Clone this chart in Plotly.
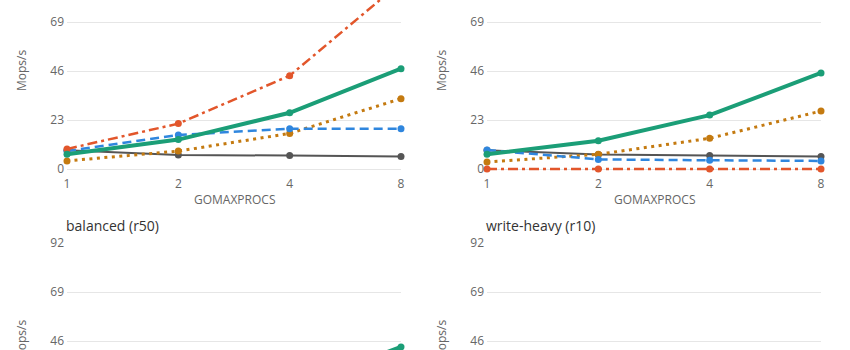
import math
import plotly.graph_objects as go

# ---- data ----
threads = [1, 2, 4, 8]
tick_vals_y = [0, 23, 46, 69, 92]
tick_text_x = ["1", "2", "4", "8"]

panel_titles = ["balanced (r50)", "write-heavy (r10)"]  # visible titles (bottom row)
series_names = ["Mutex map", "sharded map", "RWMutex map", "sync.Map", "lock-free map"]

# panel 1 (top-left)
p1_gray = [8.8, 6.6, 6.3, 5.9]
p1_dot = [3.8, 8.4, 16.7, 33.0]
p1_blue = [8.4, 16.0, 18.9, 18.9]
p1_red = [9.4, 21.3, 43.8, 87.6]
p1_green = [6.9, 13.8, 26.4, 47.1]

# panel 2 (top-right)
p2_gray = [8.8, 6.8, 6.3, 5.9]
p2_dot = [3.3, 6.9, 14.4, 27.2]
p2_blue = [8.9, 4.5, 4.1, 3.8]
p2_red = [0.0, 0.0, 0.0, 0.0]
p2_green = [6.9, 13.3, 25.3, 45.1]

# panel 3 (bottom-left)
p3_gray = [8.6, 6.5, 6.1, 5.7]
p3_dot = [3.5, 7.5, 15.0, 29.5]
p3_blue = [8.6, 9.5, 10.2, 10.0]
p3_red = [4.8, 9.9, 19.6, 38.0]
p3_green = [6.8, 13.0, 24.0, 43.2]

# panel 4 (bottom-right)
p4_gray = [8.7, 6.7, 6.2, 5.8]
p4_dot = [3.2, 6.5, 13.0, 24.5]
p4_blue = [8.8, 4.6, 4.0, 3.7]
p4_red = [0.0, 0.0, 0.0, 0.0]
p4_green = [6.6, 12.4, 22.5, 38.5]

panels = [
    [p1_gray, p1_dot, p1_blue, p1_red, p1_green],
    [p2_gray, p2_dot, p2_blue, p2_red, p2_green],
    [p3_gray, p3_dot, p3_blue, p3_red, p3_green],
    [p4_gray, p4_dot, p4_blue, p4_red, p4_green],
]

# ---- styles ----
colors = ["#555555", "#c47a10", "#2f86de", "#e2562b", "#1b9e77"]
dashes = ["solid", "3px,4.5px", "9px,5px", "10px,4px,3px,4px", "solid"]
widths = [2, 3, 2.5, 2.5, 4]
FONT = "Open Sans, Noto Sans, sans-serif"

fig = go.Figure()

axis_ids = [("x", "y"), ("x2", "y2"), ("x3", "y3"), ("x4", "y4")]
for p, (xa, ya) in enumerate(axis_ids):
    for s, vals in enumerate(panels[p]):
        fig.add_trace(go.Scatter(
            x=threads, y=vals, name=series_names[s], mode="lines+markers",
            xaxis=xa, yaxis=ya, showlegend=False, cliponaxis=False,
            line=dict(color=colors[s], dash=dashes[s], width=widths[s]),
            marker=dict(color=colors[s], size=7),
        ))

W, H = 850, 350
L, R = 67, 29
PW = W - L - R
upp = 23 / 49.0  # data units per pixel


def px_x(px):
    return (px - L) / PW


def px_y(py):
    return 1 - py / H


xdom_left = [0, px_x(401)]
xdom_right = [px_x(487), 1]
ydom_top = [px_y(172), 1]
ydom_bot = [0, px_y(243)]
yr_top = [-3 * upp, 169 * upp]
yr_bot = [92 - 107 * upp, 92]

xcommon = dict(type="log", range=[0, math.log10(8)], showgrid=False, zeroline=False,
               showline=False, tickvals=threads, ticktext=tick_text_x, ticks="",
               tickfont=dict(size=12, color="#666666", family=FONT),
               ticklabelstandoff=3, automargin=False, fixedrange=True)
ycommon = dict(showgrid=True, gridcolor="#e6e6e6", gridwidth=1, zeroline=False, showline=False,
               tickvals=tick_vals_y, ticks="", tickfont=dict(size=12, color="#666666", family=FONT),
               ticklabelstandoff=2, automargin=False, fixedrange=True)

fig.update_layout(
    width=W, height=H, margin=dict(l=L, r=R, t=0, b=0),
    paper_bgcolor="white", plot_bgcolor="white", template="none",
    font=dict(family=FONT, color="#666666"),
    xaxis=dict(domain=xdom_left, anchor="y", **xcommon),
    yaxis=dict(domain=ydom_top, anchor="x", range=yr_top, **ycommon),
    xaxis2=dict(domain=xdom_right, anchor="y2", **xcommon),
    yaxis2=dict(domain=ydom_top, anchor="x2", range=yr_top, **ycommon),
    xaxis3=dict(domain=xdom_left, anchor="y3", **dict(xcommon, showticklabels=False)),
    yaxis3=dict(domain=ydom_bot, anchor="x3", range=yr_bot, **ycommon),
    xaxis4=dict(domain=xdom_right, anchor="y4", **dict(xcommon, showticklabels=False)),
    yaxis4=dict(domain=ydom_bot, anchor="x4", range=yr_bot, **ycommon),
)

# subplot titles (bottom row)
title_pos = [(px_x(64), px_y(225)), (px_x(484), px_y(225))]
for t, (tx, ty) in zip(panel_titles, title_pos):
    fig.add_annotation(text=t, xref="paper", yref="paper", x=tx, y=ty, xanchor="left",
                       yanchor="middle", showarrow=False,
                       font=dict(size=14, color="#333333", family=FONT))

# x axis titles (top row; bottom row's lie below the visible area)
for tx, ty in [(px_x(234), px_y(199)), (px_x(654), px_y(199))]:
    fig.add_annotation(text="GOMAXPROCS", xref="paper", yref="paper", x=tx, y=ty,
                       xanchor="center", yanchor="middle", showarrow=False,
                       font=dict(size=12, color="#666666", family=FONT))

# y axis titles (centred on each full 0–92 axis)
ytitle_pos = [(px_x(21), px_y(71)), (px_x(441), px_y(71)), (px_x(21), px_y(341)), (px_x(441), px_y(341))]
for tx, ty in ytitle_pos:
    fig.add_annotation(text="Mops/s", xref="paper", yref="paper", x=tx, y=ty, xanchor="center",
                       yanchor="middle", textangle=-90, showarrow=False,
                       font=dict(size=12, color="#666666", family=FONT))

fig.write_html("out.html")
